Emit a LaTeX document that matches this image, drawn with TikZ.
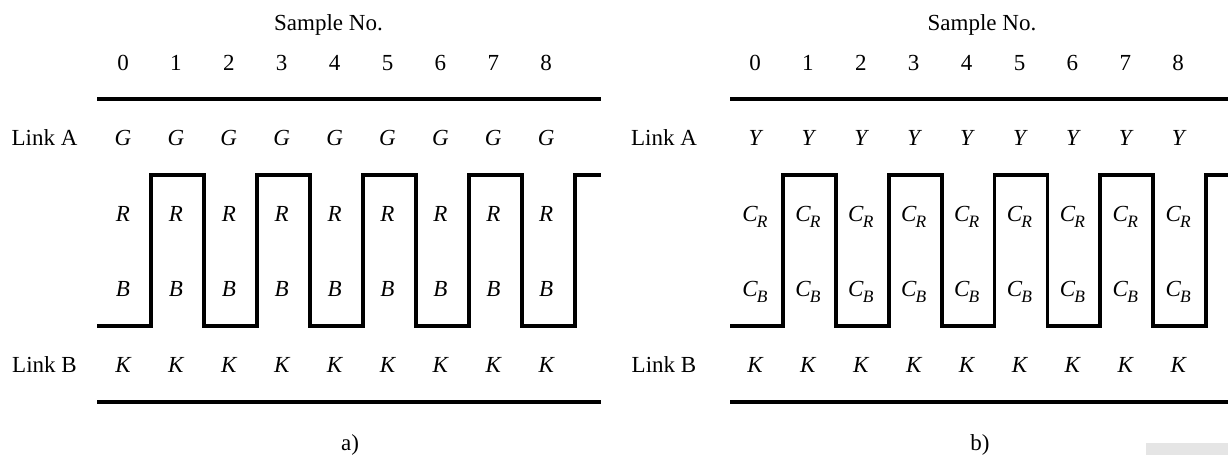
\documentclass[tikz,border=0pt]{standalone}
\usepackage{fontspec}
\setmainfont{Liberation Serif}
\newcommand\csub[1]{\textit{C}\kern-0.5pt\raisebox{-3.3pt}{\fontsize{8.7}{9}\selectfont\textit{#1}}}
\begin{document}
\begin{tikzpicture}[x=0.5pt,y=-0.5pt,
  lbl/.style={anchor=base, inner sep=0pt, font=\fontsize{11.5}{13}\selectfont},
  sym/.style={anchor=base, inner sep=0pt, font=\fontsize{11.5}{13}\selectfont\itshape},
  rule/.style={line width=1.55pt},
  wave/.style={line width=1.55pt, line join=miter}]
\useasboundingbox (0,0) rectangle (1228,455);

% ---------- panel a) ----------
\node[lbl] (sampA) at (328.5,30.5) {Sample No.};
\node[lbl] (linkAa) at (44.5,145) {Link A};
\node[lbl] (linkBa) at (44.5,372) {Link B};
\foreach \i in {0,...,8} {
  \pgfmathsetmacro\cx{123+52.9*\i}
  \node[lbl] (na\i) at (\cx,70) {\i};
  \node[sym] (ga\i) at (\cx,145) {G};
  \node[sym] (ra\i) at (\cx,221) {R};
  \node[sym] (ba\i) at (\cx,296) {B};
  \node[sym] (ka\i) at (\cx,372) {K};
}
\draw[rule] (97,99) -- (601,99);
\draw[rule] (97,402) -- (601,402);
\draw[wave] (97,326) -| (151,175) -| (204,326) -| (257,175) -| (310,326)
  -| (363,175) -| (416,326) -| (469,175) -| (522,326) -| (575,175) -- (601,175);
\node[lbl] (capa) at (350,450) {a)};

% ---------- panel b) ----------
\node[lbl] (sampB) at (982,30.5) {Sample No.};
\node[lbl] (linkAb) at (664,145) {Link A};
\node[lbl] (linkBb) at (664,372) {Link B};
\foreach \i in {0,...,8} {
  \pgfmathsetmacro\cx{755+52.9*\i}
  \node[lbl] (nb\i) at (\cx,70) {\i};
  \node[sym] (yb\i) at (\cx,145) {Y};
  \node[lbl] (crb\i) at (\cx,221) {\csub{R}};
  \node[lbl] (cbb\i) at (\cx,296) {\csub{B}};
  \node[sym] (kb\i) at (\cx,372) {K};
}
\draw[rule] (730,99) -- (1228,99);
\draw[rule] (730,402) -- (1228,402);
\draw[wave] (730,326) -| (783,175) -| (836,326) -| (889,175) -| (942,326)
  -| (994.6,175) -| (1047.5,326) -| (1100,175) -| (1153,326) -| (1206,175) -- (1228,175);
\node[lbl] (capb) at (980,450) {b)};

\fill[gray!20] (1146,443) rectangle (1228,455);
\end{tikzpicture}
\end{document}
